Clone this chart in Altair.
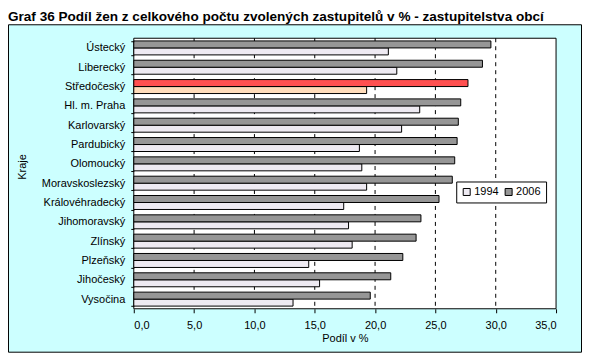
import altair as alt
import pandas as pd

kraje = ["Ústecký", "Liberecký", "Středočeský", "Hl. m. Praha", "Karlovarský",
         "Pardubický", "Olomoucký", "Moravskoslezský", "Královéhradecký",
         "Jihomoravský", "Zlínský", "Plzeňský", "Jihočeský", "Vysočina"]
podil_2006 = [29.6, 28.9, 27.7, 27.1, 26.9, 26.8, 26.6, 26.4, 25.3, 23.8, 23.4, 22.3, 21.3, 19.6]
podil_1994 = [21.1, 21.8, 19.3, 23.7, 22.2, 18.7, 18.9, 19.3, 17.4, 17.8, 18.1, 14.5, 15.4, 13.2]
roky = ["1994", "2006"]
zvyrazneny = "Středočeský"
tick_values = [0, 5, 10, 15, 20, 25, 30, 35]

rows = []
for k, v94, v06 in zip(kraje, podil_1994, podil_2006):
    for rok, v in (("1994", v94), ("2006", v06)):
        rows.append({"Kraj": k, "Rok": rok, "Podil": v,
                     "Barva": rok + (" S" if k == zvyrazneny else "")})
df = pd.DataFrame(rows)

W, H = 423, 271
FONT = "Liberation Sans"

xscale = alt.Scale(domain=[0, 35], nice=False, zero=True)

frame = alt.Chart(pd.DataFrame({"d": [0]})).mark_rect(
    fill="#CCFFFF", stroke="black", strokeWidth=1
).encode(x=alt.value(-125.5), x2=alt.value(448.5), y=alt.value(-13.5), y2=alt.value(314.5))

plotbg = alt.Chart(pd.DataFrame({"d": [0]})).mark_rect(
    fill="white", stroke="black", strokeWidth=1
).encode(x=alt.value(0), x2=alt.value(W), y=alt.value(0), y2=alt.value(H))

xaxis = alt.Axis(values=tick_values,
                 labelExpr="replace(format(datum.value, '.1f'), '.', ',')",
                 tickSize=4, labelPadding=7, domain=False, grid=False,
                 title="Podíl v %", titleFontWeight="normal", titleFontSize=11,
                 titlePadding=2, labelFontSize=11, labelColor="black",
                 tickColor="black", titleColor="black", zindex=1,
                 labelFont=FONT, titleFont=FONT)

grid = alt.Chart(pd.DataFrame({"t": tick_values[1:-1]})).mark_rule(
    color="black", strokeDash=[4, 4], strokeWidth=1
).encode(x=alt.X("t:Q", scale=xscale, axis=xaxis))

bars = alt.Chart(df).mark_bar(stroke="black", strokeWidth=1).encode(
    x=alt.X("Podil:Q", scale=xscale, axis=xaxis),
    y=alt.Y("Kraj:N", sort=kraje,
            scale=alt.Scale(paddingInner=0.277, paddingOuter=0.1385),
            axis=alt.Axis(title="Kraje", tickBand="extent", tickSize=3,
                          labelPadding=6, domain=False, grid=False,
                          labelFontSize=11, labelColor="black", tickColor="black",
                          titleFontWeight="normal", titleFontSize=11,
                          titleColor="black", titleX=-108, titleY=128.5,
                          titleAngle=270, titleAlign="center",
                          titleBaseline="alphabetic", zindex=1,
                          labelFont=FONT, titleFont=FONT)),
    yOffset=alt.YOffset("Rok:N", sort=["2006", "1994"],
                        scale=alt.Scale(paddingInner=0, paddingOuter=0)),
    color=alt.Color("Barva:N",
                    scale=alt.Scale(domain=["1994", "2006", "1994 S", "2006 S"],
                                    range=["#EEEAF2", "#969696", "#FFDCBA", "#FF5050"]),
                    legend=alt.Legend(values=roky, title=None, orient="none",
                                      legendX=323, legendY=143.5,
                                      direction="horizontal",
                                      strokeColor="black", fillColor="white",
                                      padding=5, symbolType="square",
                                      symbolSize=49, symbolStrokeColor="black",
                                      symbolStrokeWidth=1, labelFontSize=11,
                                      labelFont=FONT, labelColor="black",
                                      labelOffset=2, columnPadding=4)),
)

chart = alt.layer(frame, plotbg, grid, bars).properties(
    width=W, height=H,
    title=alt.TitleParams(
        "Graf 36 Podíl žen z celkového počtu zvolených zastupitelů v % - zastupitelstva obcí",
        anchor="start", frame="bounds", fontSize=13.6, fontWeight="bold",
        font=FONT, color="black", offset=1),
    autosize=alt.AutoSizeParams(type="none"),
    padding={"left": 126, "top": 30, "right": 27, "bottom": 45},
).configure_view(stroke=None).configure(font=FONT)

chart.save("out.html", embed_options={"renderer": "svg", "actions": False})
